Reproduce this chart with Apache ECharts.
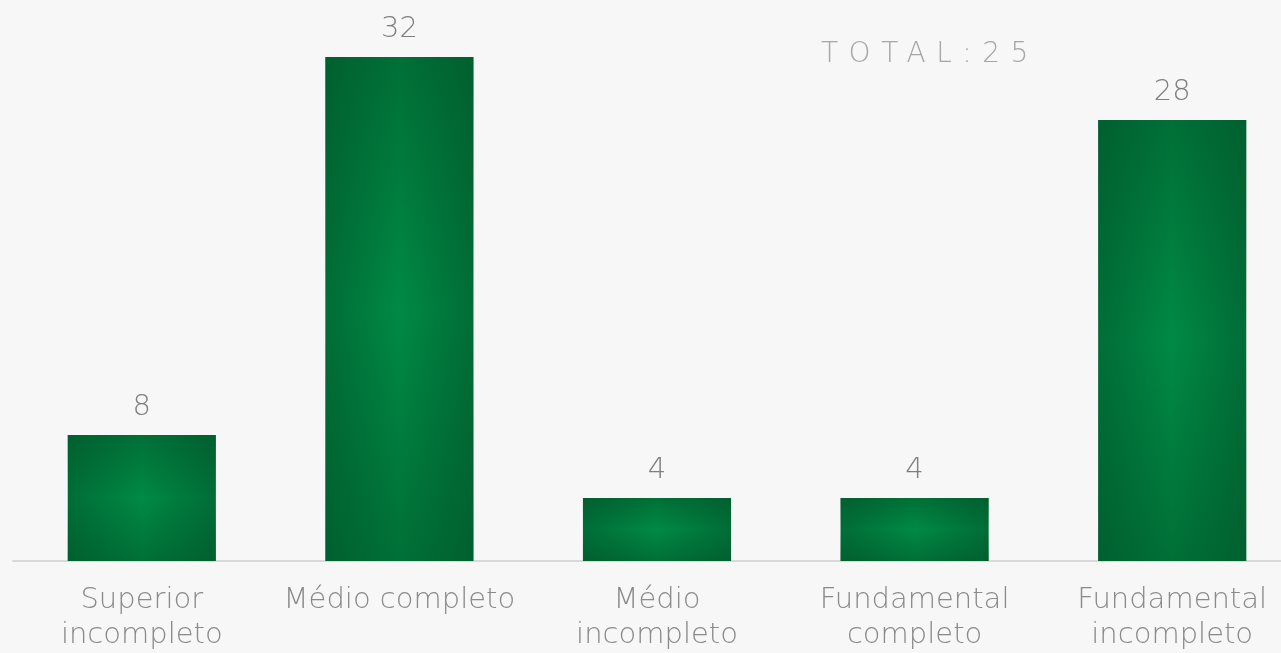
<!DOCTYPE html>
<html>
<head>
<meta charset="utf-8">
<script src="https://cdn.jsdelivr.net/npm/echarts@6/dist/echarts.min.js"></script>
<style>
html,body{margin:0;padding:0;background:#f7f7f7;overflow:hidden;width:1281px;height:653px;position:relative;}
#chart{width:1301px;height:653px;}
#total{position:absolute;left:821px;top:36px;font-family:"DejaVu Sans",sans-serif;font-weight:200;font-size:28px;letter-spacing:10.5px;color:#a6a6a6;white-space:nowrap;}
</style>
</head>
<body>
<div id="chart"></div>
<div id="total">TOTAL:25</div>
<script>
const categories = ['Superior\nincompleto', 'Médio completo', 'Médio\nincompleto', 'Fundamental\ncompleto', 'Fundamental\nincompleto'];
const values = [8, 32, 4, 4, 28];
const yMax = 32;

const chart = echarts.init(document.getElementById('chart'));
const font = '"DejaVu Sans", sans-serif';
chart.setOption({
  backgroundColor: '#f7f7f7',
  animation: false,
  grid: {left: 13, right: 0, top: 57, bottom: 91, containLabel: false},
  xAxis: {
    type: 'category',
    data: categories,
    axisLine: {lineStyle: {color: '#d9d9d9', width: 2}},
    axisTick: {show: false},
    axisLabel: {color: '#8a8a8a', fontFamily: font, fontWeight: 200, fontSize: 29, lineHeight: 35, margin: 22, interval: 0}
  },
  yAxis: {type: 'value', min: 0, max: yMax, show: false, splitLine: {show: false}},
  series: [{
    type: 'bar',
    data: values,
    barWidth: '57.5%',
    itemStyle: {
      color: {type: 'linear', x: 0, y: 0, x2: 1, y2: 0, colorStops: [
        {offset: 0, color: '#006d37'}, {offset: 0.5, color: '#008a45'}, {offset: 1, color: '#006d37'}
      ]}
    },
    label: {show: true, position: 'top', distance: 13, color: '#7f7f7f', fontFamily: font, fontWeight: 200, fontSize: 29}
  }, {
    type: 'bar',
    data: values,
    barWidth: '57.5%',
    barGap: '-100%',
    silent: true,
    itemStyle: {
      color: {type: 'linear', x: 0, y: 0, x2: 0, y2: 1, colorStops: [
        {offset: 0, color: 'rgba(0,80,38,0.45)'}, {offset: 0.5, color: 'rgba(0,80,38,0)'}, {offset: 1, color: 'rgba(0,80,38,0.45)'}
      ]}
    }
  }]
});
</script>
</body>
</html>
